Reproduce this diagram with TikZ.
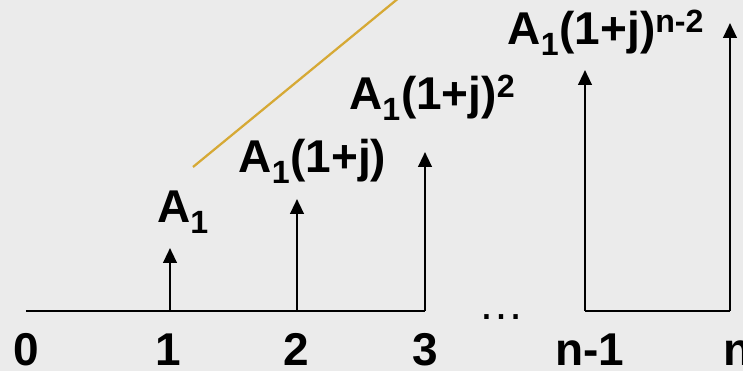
\documentclass[tikz,border=0pt]{standalone}
\usepackage{fontspec}
\setmainfont{Liberation Sans}
\usepackage{xcolor}
\usetikzlibrary{arrows.meta,positioning}
\definecolor{bgGray}{HTML}{EBEBEB}
\definecolor{lineGold}{HTML}{D6A935}

\begin{document}
\begin{tikzpicture}[font=\fontsize{32.7}{39}\selectfont\bfseries,
    axis/.style={line width=1.8pt},
    stem/.style={line width=1.7pt, -{Triangle[width=9.5pt, length=10.5pt]}},
    lbl/.style={anchor=base, inner sep=0pt}]
    \fill[bgGray] (0,0) rectangle (18.575,9.275);
    \clip (0,0) rectangle (18.575,9.275);
    % time axis
    \coordinate (t0) at (0.65,1.5);
    \coordinate (t1) at (4.25,1.5);
    \coordinate (t2) at (7.425,1.5);
    \coordinate (t3) at (10.625,1.5);
    \coordinate (tn1) at (14.625,1.5);
    \coordinate (tn) at (18.25,1.5);
    % arrow tips
    \coordinate (h1) at (4.25,3.075);
    \coordinate (h2) at (7.425,4.3);
    \coordinate (h3) at (10.625,5.475);
    \coordinate (hn1) at (14.625,7.525);
    \coordinate (hn) at (18.25,8.7);
    \draw[axis] (t0) -- (t3);
    \draw[axis] (tn1) -- (tn);
    \draw[stem] (t1) -- (h1);
    \draw[stem] (t2) -- (h2);
    \draw[stem] (t3) -- (h3);
    \draw[stem] (tn1) -- (hn1);
    \draw[stem] (tn) -- (hn);
    % growth line
    \coordinate (g0) at (4.825,5.1);
    \coordinate (g1) at (10.0,9.35);
    \draw[lineGold, line width=1.6pt] (g0) -- (g1);
    % period labels
    \node[lbl] (l0) at (0.65,0.14) {0};
    \node[lbl] (l1) at (4.2,0.14) {1};
    \node[lbl] (l2) at (7.4,0.14) {2};
    \node[lbl] (l3) at (10.625,0.14) {3};
    \node[lbl] (ln1) at (14.75,0.14) {n-1};
    \node[lbl] (ln) at (18.45,0.14) {n};
    \node[lbl, font=\fontsize{32.7}{39}\selectfont\mdseries] (dots) at (12.525,1.275) {…};
    % payments
    \node[lbl] (a1) at (4.575,3.7) {A\textsubscript{1}};
    \node[lbl] (a2) at (7.81,4.95) {A\textsubscript{1}(1+j)};
    \node[lbl] (a3) at (10.81,6.525) {A\textsubscript{1}(1+j)\textsuperscript{2}};
    \node[lbl] (an1) at (15.15,8.15) {A\textsubscript{1}(1+j)\textsuperscript{n-2}};
\end{tikzpicture}
\end{document}
